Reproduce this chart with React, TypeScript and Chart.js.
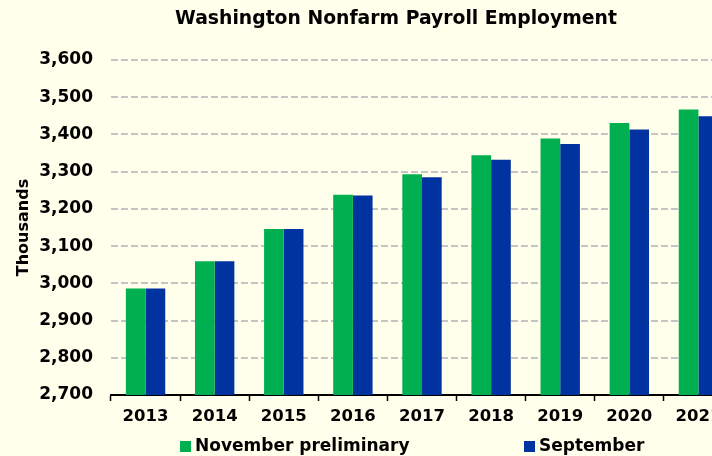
import { useEffect, useRef } from 'react';
import { Chart, registerables } from 'chart.js';

Chart.register(...registerables);

const categories = ['2013', '2014', '2015', '2016', '2017', '2018', '2019', '2020', '2021'];
const novemberPreliminary = [2986, 3059, 3146, 3238, 3293, 3344, 3389, 3431, 3467];
const september = [2986, 3059, 3146, 3236, 3285, 3332, 3374, 3413, 3449];
const seriesNames = ['November preliminary', 'September'];
const seriesColors = ['#00B050', '#0033A0'];
const yMin = 2700;
const yMax = 3600;
const yStep = 100;
const chartTitle = 'Washington Nonfarm Payroll Employment';
const yAxisTitle = 'Thousands';

const FONT = '"DejaVu Sans", Verdana, sans-serif';
const BG = '#FFFFEC';

const titlePlugin = {
  id: 'customTitle',
  afterDraw(chart: any) {
    const ctx = chart.ctx;
    ctx.save();
    ctx.font = `bold 18.8px ${FONT}`;
    ctx.fillStyle = '#000';
    ctx.textAlign = 'center';
    ctx.textBaseline = 'middle';
    ctx.fillText(chartTitle, 396, 19);
    ctx.restore();
  },
};

const legendPlugin = {
  id: 'customLegend',
  afterDraw(chart: any) {
    const ctx = chart.ctx;
    const xs = [180, 524];
    ctx.save();
    ctx.font = `bold 17px ${FONT}`;
    ctx.textBaseline = 'middle';
    ctx.textAlign = 'left';
    chart.data.datasets.forEach((ds: any, i: number) => {
      ctx.fillStyle = ds.backgroundColor;
      ctx.fillRect(xs[i], 441, 11, 11);
      ctx.fillStyle = '#000';
      ctx.fillText(ds.label, xs[i] + 15, 447);
    });
    ctx.restore();
  },
};

export default function App() {
  const ref = useRef<HTMLCanvasElement>(null);
  useEffect(() => {
    if (!ref.current) return;
    const chart = new Chart(ref.current, {
      type: 'bar',
      data: {
        labels: categories,
        datasets: [
          { label: seriesNames[0], data: novemberPreliminary, backgroundColor: seriesColors[0] },
          { label: seriesNames[1], data: september, backgroundColor: seriesColors[1] },
        ],
      },
      options: {
        responsive: false,
        animation: false,
        layout: { padding: { top: 60, right: 12, bottom: 0, left: 0 } },
        datasets: { bar: { categoryPercentage: 0.57, barPercentage: 1 } },
        plugins: {
          legend: { display: false },
          title: { display: false },
          tooltip: { enabled: false },
        },
        scales: {
          x: {
            offset: true,
            grid: { display: true, offset: true, drawOnChartArea: false, drawTicks: true, tickLength: 6, color: '#000', tickWidth: 1.5 },
            border: { display: true, color: '#000', width: 2 },
            ticks: { color: '#000', font: { family: FONT, size: 16.5, weight: 'bold' }, padding: 6, maxRotation: 0, autoSkip: false },
            afterFit: (s: any) => { s.height = 61; },
          },
          y: {
            min: yMin,
            max: yMax,
            grid: { color: '#C4C4C4', lineWidth: 2, drawTicks: false },
            border: { display: false, dash: [7, 3] },
            ticks: {
              stepSize: yStep,
              color: '#000',
              padding: 18,
              font: { family: FONT, size: 17, weight: 'bold' },
              callback: (v: any) => Number(v).toLocaleString('en-US'),
            },
            title: { display: true, text: yAxisTitle, color: '#000', font: { family: FONT, size: 16, weight: 'bold' }, padding: { top: 14, bottom: 0 } },
            afterFit: (s: any) => { s.width = 111; },
          },
        },
      },
      plugins: [titlePlugin, legendPlugin],
    } as any);
    return () => chart.destroy();
  }, []);
  return (
    <div style={{ position: 'fixed', left: 0, top: 0, width: 712, height: 456, overflow: 'hidden', background: BG }}>
      <canvas ref={ref} width={745} height={456} style={{ display: 'block' }} />
    </div>
  );
}
